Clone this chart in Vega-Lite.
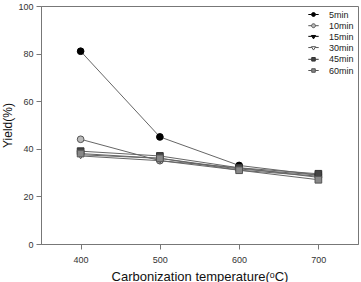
{
  "$schema": "https://vega.github.io/schema/vega-lite/v6.json",
  "width": 317,
  "height": 238,
  "autosize": {"type": "none"},
  "padding": {"left": 41, "top": 6, "right": 3, "bottom": 38},
  "background": "white",
  "config": {
    "font": "Liberation Sans",
    "view": {"stroke": "#777", "strokeWidth": 1},
    "axis": {
      "grid": false,
      "domainColor": "#777",
      "tickColor": "#777",
      "tickSize": 5,
      "labelFontSize": 9,
      "labelColor": "#333",
      "titleFontWeight": "normal",
      "titleColor": "#111"
    },
    "legend": {
      "orient": "top-right",
      "offset": 0,
      "padding": 4,
      "labelFontSize": 9,
      "labelColor": "#222",
      "symbolSize": 30,
      "symbolStrokeWidth": 1,
      "symbolOpacity": 1,
      "labelOffset": 11,
      "rowPadding": 1.2
    }
  },
  "data": {
    "values": [
      {"time": "5min", "temp": 400, "yield": 81},
      {"time": "5min", "temp": 500, "yield": 45},
      {"time": "5min", "temp": 600, "yield": 33},
      {"time": "5min", "temp": 700, "yield": 29},
      {"time": "10min", "temp": 400, "yield": 44},
      {"time": "10min", "temp": 500, "yield": 35},
      {"time": "10min", "temp": 600, "yield": 32},
      {"time": "10min", "temp": 700, "yield": 28},
      {"time": "15min", "temp": 400, "yield": 37.5},
      {"time": "15min", "temp": 500, "yield": 36},
      {"time": "15min", "temp": 600, "yield": 31.5},
      {"time": "15min", "temp": 700, "yield": 29},
      {"time": "30min", "temp": 400, "yield": 37},
      {"time": "30min", "temp": 500, "yield": 35},
      {"time": "30min", "temp": 600, "yield": 31},
      {"time": "30min", "temp": 700, "yield": 28.5},
      {"time": "45min", "temp": 400, "yield": 39},
      {"time": "45min", "temp": 500, "yield": 37},
      {"time": "45min", "temp": 600, "yield": 32},
      {"time": "45min", "temp": 700, "yield": 29.5},
      {"time": "60min", "temp": 400, "yield": 38},
      {"time": "60min", "temp": 500, "yield": 36},
      {"time": "60min", "temp": 600, "yield": 31},
      {"time": "60min", "temp": 700, "yield": 27}
    ]
  },
  "encoding": {
    "x": {
      "field": "temp",
      "type": "quantitative",
      "scale": {"domain": [350, 750], "nice": false, "zero": false},
      "axis": {"values": [400, 500, 600, 700], "title": "Carbonization temperature(ᵒC)", "titleFontSize": 13, "titlePadding": 6, "labelPadding": 6}
    },
    "y": {
      "field": "yield",
      "type": "quantitative",
      "scale": {"domain": [0, 100], "nice": false},
      "axis": {"values": [0, 20, 40, 60, 80, 100], "title": "Yield(%)", "titleFontSize": 12, "titlePadding": 3, "labelPadding": 3}
    }
  },
  "layer": [
    {
      "mark": {"type": "line", "color": "#666", "strokeWidth": 1},
      "encoding": {"detail": {"field": "time"}}
    },
    {
      "mark": {"type": "point", "size": 45, "strokeWidth": 1, "opacity": 1, "filled": false},
      "encoding": {
        "shape": {
          "field": "time",
          "type": "nominal",
          "scale": {
            "domain": ["5min", "10min", "15min", "30min", "45min", "60min"],
            "range": ["circle", "circle", "triangle-down", "triangle-down", "square", "square"]
          },
          "legend": null
        },
        "fill": {
          "field": "time",
          "type": "nominal",
          "scale": {
            "domain": ["5min", "10min", "15min", "30min", "45min", "60min"],
            "range": ["#000000", "#bbbbbb", "#111111", "#ffffff", "#444444", "#888888"]
          },
          "legend": null
        },
        "stroke": {
          "field": "time",
          "type": "nominal",
          "scale": {
            "domain": ["5min", "10min", "15min", "30min", "45min", "60min"],
            "range": ["#000000", "#555555", "#000000", "#555555", "#333333", "#555555"]
          },
          "legend": null
        }
      }
    },
    {
      "transform": [{"filter": "false"}],
      "mark": {"type": "point", "size": 30, "strokeWidth": 1, "filled": false},
      "encoding": {
        "shape": {
          "field": "time",
          "type": "nominal",
          "scale": {
            "domain": ["5min", "10min", "15min", "30min", "45min", "60min"],
            "range": [
              "M-1.9,0H-0.72M0.72,0H1.9M0.72,0A0.72,0.72 0 1,1 -0.72,0A0.72,0.72 0 1,1 0.72,0Z",
              "M-1.9,0H-0.72M0.72,0H1.9M0.72,0A0.72,0.72 0 1,1 -0.72,0A0.72,0.72 0 1,1 0.72,0Z",
              "M-1.9,-0.2H-0.6M0.6,-0.2H1.9M-0.78,-0.52L0.78,-0.52L0,0.72Z",
              "M-1.9,-0.2H-0.6M0.6,-0.2H1.9M-0.78,-0.52L0.78,-0.52L0,0.72Z",
              "M-1.9,0H-0.65M0.65,0H1.9M-0.65,-0.65H0.65V0.65H-0.65Z",
              "M-1.9,0H-0.65M0.65,0H1.9M-0.65,-0.65H0.65V0.65H-0.65Z"
            ]
          },
          "legend": {"title": null}
        },
        "fill": {
          "field": "time",
          "type": "nominal",
          "scale": {
            "domain": ["5min", "10min", "15min", "30min", "45min", "60min"],
            "range": ["#000000", "#bbbbbb", "#111111", "#ffffff", "#444444", "#888888"]
          },
          "legend": {"title": null}
        },
        "stroke": {
          "field": "time",
          "type": "nominal",
          "scale": {
            "domain": ["5min", "10min", "15min", "30min", "45min", "60min"],
            "range": ["#000000", "#555555", "#000000", "#555555", "#333333", "#555555"]
          },
          "legend": {"title": null}
        }
      }
    }
  ],
  "resolve": {
    "scale": {"shape": "independent", "fill": "independent", "stroke": "independent"},
    "legend": {"shape": "independent", "fill": "independent", "stroke": "independent"}
  }
}
